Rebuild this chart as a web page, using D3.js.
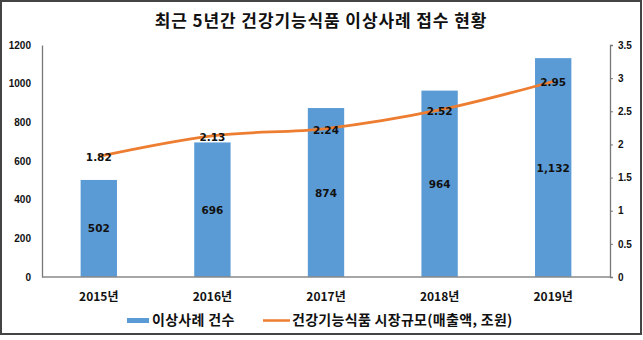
<!DOCTYPE html>
<html><head><meta charset="utf-8">
<script src="https://cdn.jsdelivr.net/npm/d3@7"></script>
<style>body{margin:0;background:#fff}svg{display:block}text{font-family:"Noto Sans CJK KR","Malgun Gothic",sans-serif}</style>
</head><body>
<svg id="c" width="643" height="340"></svg>
<script>
const categories = ["2015년","2016년","2017년","2018년","2019년"];
const cases = [502, 696, 874, 964, 1132];
const market = [1.82, 2.13, 2.24, 2.52, 2.95];
const leftTicks = [0,200,400,600,800,1000,1200];
const rightTicks = [0,0.5,1,1.5,2,2.5,3,3.5];
const seriesNames = ["이상사례 건수","건강기능식품 시장규모(매출액, 조원)"];
const title = "최근 5년간 건강기능식품 이상사례 접수 현황";

const svg = d3.select("#c");
const L = 42, R = 610, T = 45, B = 277;
const numFont = "Verdana, 'DejaVu Sans', sans-serif";
svg.append("rect").attr("x",1).attr("y",1).attr("width",640).attr("height",333)
  .attr("fill","#fff").attr("stroke","#444").attr("stroke-width",2);

svg.append("text").attr("x",321).attr("y",27).attr("text-anchor","middle")
  .attr("font-size",17).attr("font-weight","bold").attr("letter-spacing",0.9).attr("fill","#111").text(title);

const x = d3.scaleBand().domain(categories).range([L,R]).paddingInner(0.68).paddingOuter(0.34);
const y = d3.scaleLinear().domain([0,1200]).range([B,T]);
const y2 = d3.scaleLinear().domain([0,3.5]).range([B,T]);

// left axis
const ga = svg.append("g").attr("transform",`translate(${L},0)`)
  .call(d3.axisLeft(y).tickValues(leftTicks).tickSize(0).tickPadding(11).tickFormat(d=>String(d)));
ga.select(".domain").attr("stroke","#777").attr("stroke-width",1.3);
ga.selectAll("text").attr("font-size",10).attr("font-weight","bold").attr("fill","#111")
  .style("font-family","'Liberation Sans', Arial, sans-serif");

// right axis
const gr = svg.append("g").attr("transform",`translate(${R},0)`)
  .call(d3.axisRight(y2).tickValues(rightTicks).tickSize(3).tickPadding(5).tickSizeOuter(3).tickFormat(d=>String(d)));
gr.select(".domain").attr("stroke","#777").attr("stroke-width",1.3);
gr.selectAll("line").attr("stroke","#777");
gr.selectAll("text").attr("font-size",10).attr("font-weight","bold").attr("fill","#111")
  .style("font-family","'Liberation Sans', Arial, sans-serif");

// bars
svg.selectAll("rect.bar").data(cases).join("rect").attr("class","bar")
  .attr("x",(d,i)=>x(categories[i])).attr("width",x.bandwidth())
  .attr("y",d=>y(d)).attr("height",d=>B-y(d)).attr("fill","#5B9BD5");

// baseline
svg.append("line").attr("x1",L).attr("x2",R).attr("y1",B).attr("y2",B)
  .attr("stroke","#888").attr("stroke-width",1.5);

// bar labels
svg.selectAll("text.bl").data(cases).join("text").attr("class","bl")
  .attr("x",(d,i)=>x(categories[i])+x.bandwidth()/2)
  .attr("y",d=>(y(d)+B)/2+4).attr("text-anchor","middle")
  .attr("font-size",10.5).attr("font-weight","bold").attr("fill","#111")
  .style("font-family",numFont)
  .text(d=>d3.format(",")(d));

// line
const line = d3.line().x((d,i)=>x(categories[i])+x.bandwidth()/2).y(d=>y2(d)).curve(d3.curveCatmullRom.alpha(0.5));
svg.append("path").datum(market).attr("d",line).attr("fill","none")
  .attr("stroke","#ED7D31").attr("stroke-width",2.75);

svg.selectAll("text.ll").data(market).join("text").attr("class","ll")
  .attr("x",(d,i)=>x(categories[i])+x.bandwidth()/2)
  .attr("y",d=>y2(d)+5).attr("text-anchor","middle")
  .attr("font-size",10.5).attr("font-weight","bold").attr("fill","#111")
  .style("font-family",numFont)
  .text(d=>d.toFixed(2));

// x labels
svg.selectAll("text.xl").data(categories).join("text").attr("class","xl")
  .attr("x",d=>x(d)+x.bandwidth()/2).attr("y",301).attr("text-anchor","middle")
  .attr("font-size",12).attr("font-weight","bold").attr("fill","#111").text(d=>d);

// legend
const lg = svg.append("g");
lg.append("rect").attr("x",127).attr("y",318).attr("width",22).attr("height",5).attr("fill","#5B9BD5");
lg.append("text").attr("x",152).attr("y",325).attr("font-size",14).attr("font-weight","bold").attr("letter-spacing",0.3).attr("fill","#111").text(seriesNames[0]);
lg.append("line").attr("x1",263).attr("x2",290).attr("y1",320.5).attr("y2",320.5).attr("stroke","#ED7D31").attr("stroke-width",2.5);
lg.append("text").attr("x",292).attr("y",325).attr("font-size",14).attr("font-weight","bold").attr("letter-spacing",0.3).attr("fill","#111").text(seriesNames[1]);
</script>
</body></html>
